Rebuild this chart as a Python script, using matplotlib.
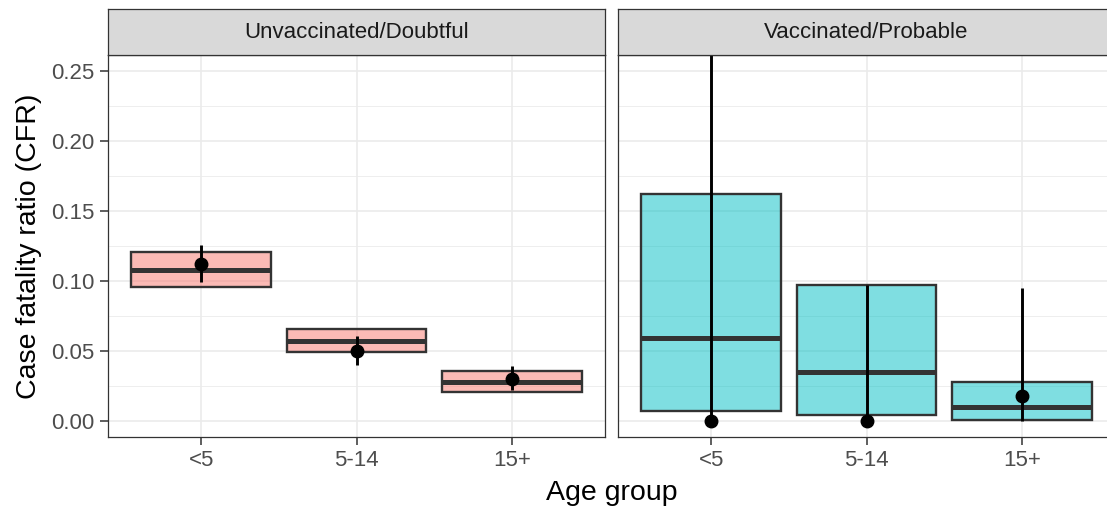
import numpy as np
import matplotlib.pyplot as plt
from matplotlib.colors import to_rgba

plt.rcParams['font.family'] = ['Liberation Sans', 'DejaVu Sans']

age_groups = ["<5", "5-14", "15+"]
panels = ["Unvaccinated/Doubtful", "Vaccinated/Probable"]
fills = ["#F8766D", "#00BFC4"]

# box: lower, middle, upper per panel
box_lower = [[0.096, 0.049, 0.021], [0.007, 0.004, 0.001]]
box_mid = [[0.108, 0.057, 0.028], [0.059, 0.035, 0.010]]
box_upper = [[0.121, 0.066, 0.036], [0.162, 0.097, 0.028]]

# observed point estimate and interval
obs = [[0.112, 0.050, 0.030], [0.000, 0.000, 0.018]]
obs_lo = [[0.099, 0.040, 0.022], [0.000, 0.000, 0.000]]
obs_hi = [[0.126, 0.061, 0.039], [0.300, 0.097, 0.095]]

yticks = [0.00, 0.05, 0.10, 0.15, 0.20, 0.25]

W, H = 1107, 511
fig = plt.figure(figsize=(W / 100, H / 100), dpi=100)

# right panel runs past the image edge, like the reference
panel_x = [(108, 605), (618, 1115)]
top, bottom, strip_top = 55, 437, 9
x = np.arange(1, len(age_groups) + 1)

for p, (x0, x1) in enumerate(panel_x):
    ax = fig.add_axes([x0 / W, 1 - bottom / H, (x1 - x0) / W, (bottom - top) / H])
    ax.set_xlim(0.4, 3.6)
    ax.set_ylim(-0.0115, 0.2615)
    ax.set_yticks(yticks)
    ax.set_yticks(np.arange(0.025, 0.26, 0.05), minor=True)
    ax.set_xticks(x)
    ax.set_xticklabels(age_groups)
    ax.grid(True, which='major', color='#EBEBEB', linewidth=1.2)
    ax.grid(True, which='minor', axis='y', color='#EBEBEB', linewidth=0.6)
    ax.set_axisbelow(True)
    ax.tick_params(which='minor', length=0)
    ax.tick_params(which='major', length=5.5, width=1.1, color='#333333',
                   labelcolor='#4D4D4D', labelsize=16, pad=4)
    for s in ax.spines.values():
        s.set_color('#333333')
        s.set_linewidth(0.9)
    if p == 0:
        ax.set_yticklabels([f"{v:.2f}" for v in yticks])
        ax.set_ylabel("Case fatality ratio (CFR)", fontsize=20.5, labelpad=7)
    else:
        ax.tick_params(axis='y', labelleft=False, length=0)

    lo = np.array(box_lower[p])
    hi = np.array(box_upper[p])
    ax.bar(x, hi - lo, bottom=lo, width=0.9, facecolor=to_rgba(fills[p], 0.5),
           edgecolor='#333333', linewidth=1.7, zorder=2)
    ax.hlines(box_mid[p], x - 0.45, x + 0.45, color='#333333', linewidth=3.6, zorder=3)
    ax.vlines(x, obs_lo[p], obs_hi[p], color='black', linewidth=2.1, zorder=4)
    ax.plot(x, obs[p], 'o', color='black', markersize=9, zorder=5, clip_on=False)

    sax = fig.add_axes([x0 / W, 1 - top / H, (x1 - x0) / W, (top - strip_top) / H])
    sax.set_xticks([])
    sax.set_yticks([])
    sax.set_facecolor('#D9D9D9')
    for s in sax.spines.values():
        s.set_color('#333333')
        s.set_linewidth(0.9)
    sax.text(0.5, 0.5, panels[p], ha='center', va='center', fontsize=16,
             color='#1A1A1A', transform=sax.transAxes)

fig.text((108 + 1115) / 2 / W, 1 - 493 / H, "Age group", ha='center', va='center',
         fontsize=20.5)

fig.savefig("out.png", dpi=100)
